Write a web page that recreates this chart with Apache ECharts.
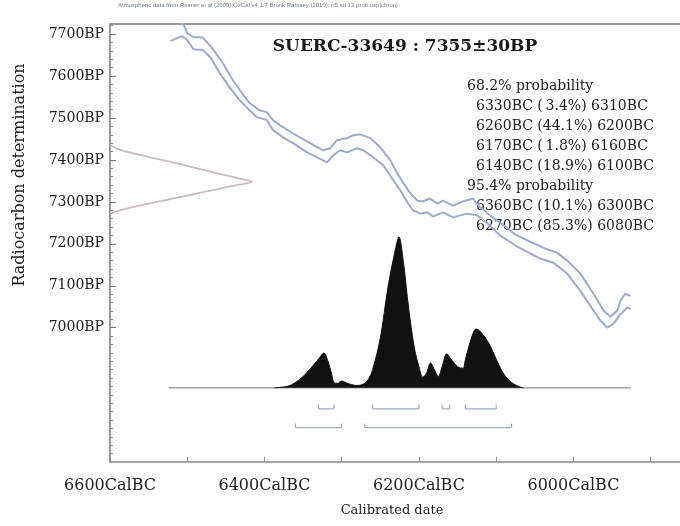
<!DOCTYPE html>
<html><head><meta charset="utf-8">
<script src="https://cdn.jsdelivr.net/npm/echarts@6/dist/echarts.min.js"></script>
<style>html,body{margin:0;padding:0;background:#fff}#c{width:680px;height:526px}</style>
</head><body><div id="c"></div>
<script>
const headerText = 'Atmospheric data from Reimer et al (2009);OxCal v4.1.7 Bronk Ramsey (2010); r:5 sd:12 prob usp[chron]';
const sampleName = 'SUERC-33649';
const sampleAge = 7355;
const sampleErr = 30;
const xLabelYears = [6600, 6400, 6200, 6000];
const yTickBP = [7000, 7100, 7200, 7300, 7400, 7500, 7600, 7700];

// calibration curve (cal BC year, BP)
const calUpper = [[6529,7745],[6505,7724],[6500,7702],[6492,7693],[6480,7692],[6468,7667],[6454,7631],[6441,7590],[6429,7559],[6419,7535],[6406,7518],[6397,7514],[6389,7495],[6376,7478],[6363,7463],[6345,7444],[6324,7423],[6315,7428],[6306,7447],[6293,7452],[6285,7459],[6276,7461],[6263,7452],[6250,7430],[6237,7399],[6228,7368],[6220,7344],[6211,7320],[6202,7303],[6195,7301],[6186,7308],[6176,7296],[6169,7303],[6156,7291],[6143,7301],[6130,7308],[6121,7287],[6108,7268],[6095,7251],[6075,7222],[6056,7205],[6037,7189],[6021,7179],[6008,7160],[5991,7129],[5974,7081],[5961,7041],[5952,7026],[5943,7041],[5939,7065],[5933,7081],[5926,7076]];
const calLower = [[6522,7683],[6507,7695],[6500,7686],[6492,7664],[6480,7662],[6470,7645],[6458,7607],[6445,7573],[6432,7542],[6419,7518],[6410,7502],[6397,7495],[6389,7471],[6376,7454],[6363,7440],[6345,7418],[6324,7399],[6319,7394],[6311,7411],[6302,7423],[6293,7418],[6280,7428],[6272,7423],[6259,7406],[6246,7387],[6233,7351],[6224,7327],[6215,7299],[6208,7280],[6198,7272],[6189,7275],[6182,7265],[6169,7275],[6156,7263],[6138,7272],[6125,7268],[6108,7244],[6095,7220],[6075,7196],[6056,7177],[6043,7165],[6026,7155],[6008,7129],[5991,7088],[5974,7041],[5965,7017],[5956,7000],[5948,7010],[5939,7033],[5930,7048],[5926,7045]];

// radiocarbon measurement distribution (BP, relative width)
const bpDist = [[7435,0],[7425,0.06],[7415,0.17],[7405,0.30],[7395,0.43],[7385,0.55],[7375,0.67],[7365,0.79],[7355,0.92],[7348,1.0],[7340,0.89],[7330,0.75],[7320,0.61],[7310,0.47],[7300,0.33],[7290,0.19],[7280,0.07],[7272,0]];

// calibrated probability (cal BC year, relative probability)
const posterior = [[6387,0],[6370,0.01],[6360,0.035],[6350,0.075],[6340,0.13],[6330,0.19],[6323,0.23],[6318,0.18],[6313,0.09],[6310,0.035],[6305,0.03],[6300,0.045],[6295,0.035],[6290,0.025],[6280,0.015],[6270,0.03],[6265,0.06],[6260,0.12],[6250,0.33],[6240,0.67],[6230,0.93],[6226,1.0],[6220,0.83],[6215,0.6],[6210,0.40],[6205,0.24],[6200,0.14],[6195,0.07],[6190,0.10],[6185,0.165],[6180,0.12],[6175,0.075],[6170,0.14],[6164,0.225],[6160,0.2],[6150,0.14],[6143,0.13],[6140,0.185],[6135,0.28],[6130,0.36],[6126,0.39],[6120,0.37],[6110,0.30],[6100,0.19],[6090,0.09],[6080,0.035],[6070,0.007],[6065,0]];
const baselineYears = [6524, 5926];

// ranges: [from BC, percent, to BC]
const ranges68 = [[6330,3.4,6310],[6260,44.1,6200],[6170,1.8,6160],[6140,18.9,6100]];
const ranges95 = [[6360,10.1,6300],[6270,85.3,6080]];
const level68 = '68.2% probability';
const level95 = '95.4% probability';

const serif = 'DejaVu Serif';
const chart = echarts.init(document.getElementById('c'));

const series = [
  {type:'line', xAxisIndex:0, yAxisIndex:0, data: calUpper.map(d=>[-d[0], d[1]]), symbol:'none', lineStyle:{color:'#9babcd', width:2}, silent:true, z:3},
  {type:'line', xAxisIndex:0, yAxisIndex:0, data: calLower.map(d=>[-d[0], d[1]]), symbol:'none', lineStyle:{color:'#9babcd', width:2}, silent:true, z:3},
  {type:'line', xAxisIndex:2, yAxisIndex:0, data: bpDist.map(d=>[d[1], d[0]]), symbol:'none', smooth:0.2, lineStyle:{color:'#c9bcbf', width:1.8}, silent:true},
  {type:'line', xAxisIndex:1, yAxisIndex:1, data: baselineYears.map(y=>[-y,0]), symbol:'none', lineStyle:{color:'#a0a0a0', width:1.5}, silent:true, z:1},
  {type:'line', xAxisIndex:1, yAxisIndex:1, data: posterior.map(d=>[-d[0], d[1]]), symbol:'none', smooth:0.35, lineStyle:{color:'#111', width:1}, areaStyle:{color:'#111', opacity:1}, silent:true, z:4}
];
function addBrackets(ranges, yv) {
  ranges.forEach(r => {
    series.push({type:'line', xAxisIndex:1, yAxisIndex:1, symbol:'none', silent:true,
      data:[[-r[0], yv+0.028],[-r[0], yv],[-r[2], yv],[-r[2], yv+0.028]],
      lineStyle:{color:'#8f99ae', width:1}});
  });
}
addBrackets(ranges68, -0.14);
addBrackets(ranges95, -0.265);

function pad(p){ return p < 10 ? '\u2009' + p.toFixed(1) : p.toFixed(1); }
const probLines = [];
probLines.push({t: level68, indent:false});
ranges68.forEach(r => probLines.push({t: r[0]+'BC ('+pad(r[1])+'%) '+r[2]+'BC', indent:true}));
probLines.push({t: level95, indent:false});
ranges95.forEach(r => probLines.push({t: r[0]+'BC ('+pad(r[1])+'%) '+r[2]+'BC', indent:true}));

const graphics = [
  {type:'text', left:118, top:2, style:{text: headerText, font:'6px "Liberation Sans"', fill:'#6f7a96'}},
  {type:'text', x:405, y:47, style:{text: sampleName+' : '+sampleAge+'\u00b1'+sampleErr+'BP', font:'bold 17px "'+serif+'"', fill:'#1a1a1a', textAlign:'center', textVerticalAlign:'middle'}},
  {type:'text', x:392, y:511, style:{text:'Calibrated date', font:'13px "'+serif+'"', fill:'#222', textAlign:'center', textVerticalAlign:'middle'}},
  {type:'text', x:20, y:175, rotation:Math.PI/2, style:{text:'Radiocarbon determination', font:'16px "'+serif+'"', fill:'#222', textAlign:'center', textVerticalAlign:'middle'}}
];
probLines.forEach((l,i) => graphics.push({type:'text', x: l.indent ? 476 : 467, y: 86 + 20*i,
  style:{text:l.t, font:'14px "'+serif+'"', fill:'#222', textVerticalAlign:'middle'}}));

chart.setOption({
  animation:false,
  backgroundColor:'#fff',
  grid:[{left:110, right:0, top:24, bottom:64}, {left:110, right:0, top:237, bottom:93}],
  xAxis:[
    {gridIndex:0, type:'value', min:-6600, max:-5862, interval:100, position:'bottom',
     axisLine:{onZero:false, lineStyle:{color:'#8a8a8a', width:1.5}},
     axisTick:{inside:true, length:5, lineStyle:{color:'#8a8a8a'}},
     axisLabel:{showMaxLabel:false, margin:16, fontFamily:serif, fontSize:16, color:'#222',
       formatter: v => xLabelYears.indexOf(-v) >= 0 ? (-v)+'CalBC' : ''},
     splitLine:{show:false}},
    {gridIndex:1, type:'value', min:-6600, max:-5862, show:false},
    {gridIndex:0, type:'value', min:0, max:4, show:false},
    {gridIndex:0, type:'value', min:-6600, max:-5862, position:'top',
     axisLine:{show:true, onZero:false, lineStyle:{color:'#9a9a9a', width:2}}, axisTick:{show:false}, axisLabel:{show:false}, splitLine:{show:false}}
  ],
  yAxis:[
    {gridIndex:0, type:'value', min:6680, max:7724, interval:20, position:'left',
     axisLine:{show:true, onZero:false, lineStyle:{color:'#7a7a7a', width:1.5}},
     axisTick:{show:true, inside:true, length:3, lineStyle:{color:'#8a8a8a'}},
     axisLabel:{showMaxLabel:false, showMinLabel:false, margin:6, fontFamily:serif, fontSize:14, color:'#222',
       formatter: v => yTickBP.indexOf(v) >= 0 ? v+'BP' : ''},
     splitLine:{show:false}},
    {gridIndex:1, type:'value', min:-0.3, max:1, show:false},
    {gridIndex:0, type:'value', min:6680, max:7724, position:'right', offset:-570,
     axisLine:{show:false, onZero:false},
     axisTick:{show:true, inside:false, length:6, customValues:yTickBP, lineStyle:{color:'#7a7a7a'}},
     axisLabel:{show:false}, splitLine:{show:false}}
  ],
  series: series,
  graphic: graphics
});
</script></body></html>
